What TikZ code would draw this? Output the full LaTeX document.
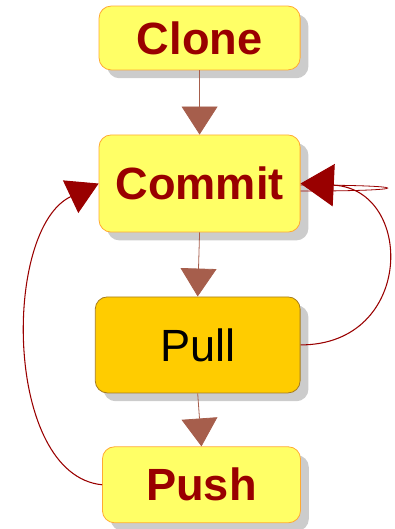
\documentclass[tikz,border=0pt]{standalone}
\usepackage{fontspec}
\setmainfont{Liberation Sans}
\usepackage{xcolor}
\usetikzlibrary{positioning,shadows,arrows.meta}
\definecolor{boxyellow}{HTML}{FFFF66}
\definecolor{boxorange}{HTML}{FFAA33}
\definecolor{pullfill}{HTML}{FFCC00}
\definecolor{pullline}{HTML}{A67C1E}
\definecolor{darkred}{HTML}{990000}
\definecolor{arrowbrown}{HTML}{A65E4C}
\tikzstyle{stepbox} = [rectangle, rounded corners=0.32cm, minimum width=5.32cm, inner sep=0pt,
text centered, draw=boxorange, fill=boxyellow, line width=0.6pt, text=darkred,
font=\fontsize{34}{40}\selectfont\bfseries,
drop shadow={shadow xshift=0.22cm, shadow yshift=-0.22cm, fill=black!20, opacity=1}]
\tikzstyle{pullbox} = [stepbox, draw=pullline, fill=pullfill, text=black,
font=\fontsize{34}{40}\selectfont]
\tikzstyle{arrow} = [arrowbrown, line width=0.6pt, -{Triangle[length=0.74cm, width=0.95cm]}]
\tikzstyle{backarrow} = [darkred, line width=0.8pt]

\begin{document}
\begin{tikzpicture}[node distance=1cm]
        \useasboundingbox (-5.28,1.005) rectangle (5.146,-12.99);

        \node[stepbox, minimum height=1.69cm] (clone) {Clone};
        \node[stepbox, minimum height=2.57cm, below of=clone, yshift=-2.85cm] (commit) {Commit};
        \node[pullbox, minimum width=5.42cm, minimum height=2.54cm, below of=commit, xshift=-0.05cm, yshift=-3.27cm] (pull) {Pull};
        \node[stepbox, minimum width=5.24cm, minimum height=2.01cm, below of=pull, xshift=0.1cm, yshift=-2.7cm] (push) {Push};

        \draw[arrow] (clone.south) -- (commit.north);
        \draw[arrow] (commit.south) -- (pull.north);
        \draw[arrow] (pull.south) -- (push.north);

        % push goes back to commit
        \draw[backarrow, -{Triangle[length=0.82cm, width=0.95cm]}] (push.west)
            .. controls +(-2.6,0.26) and +(-2.55,-1.2) .. (commit.west);
        % pull goes back to commit
        \draw[backarrow, -{Triangle[length=0.88cm, width=1.12cm]}] (pull.east)
            .. controls +(3.02,0) and +(3.02,-0.15) .. (commit.east);
        \draw[backarrow, line width=0.6pt] ([yshift=-0.04cm]commit.east)
            .. controls +(3.07,0) and +(3.07,0) .. ([yshift=-0.2cm]commit.east);

    \end{tikzpicture}
\end{document}
